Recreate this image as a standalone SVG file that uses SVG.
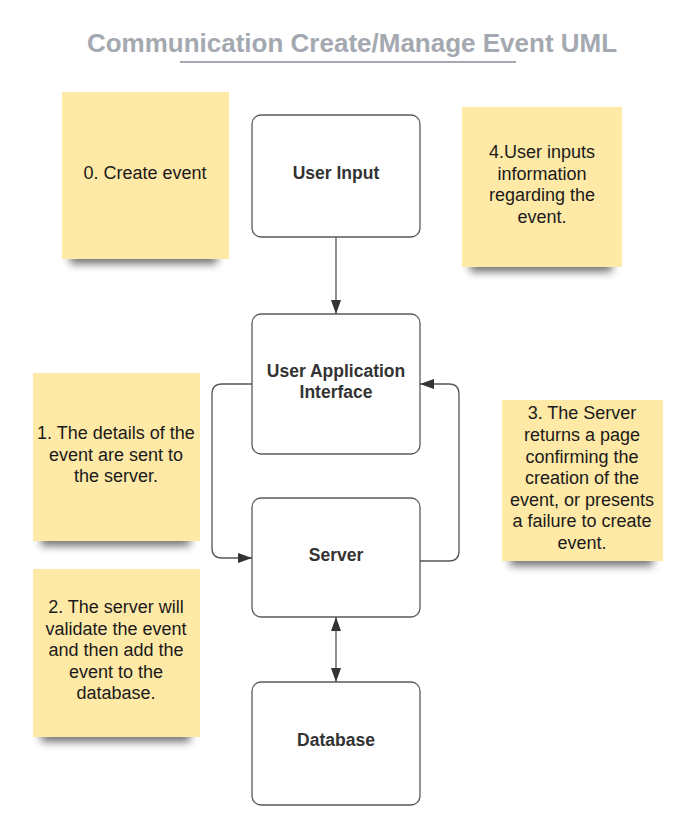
<svg xmlns="http://www.w3.org/2000/svg" width="697" height="831" viewBox="0 0 697 831">
<style>
.title{font-family:"Liberation Sans",Arial,sans-serif;font-weight:bold;font-size:26px;fill:#a4a8b0;text-anchor:middle}
.node rect{fill:#fff;stroke:#5a5a5a;stroke-width:1.3}
.node text{font-family:"Liberation Sans",Arial,sans-serif;font-weight:bold;font-size:17.5px;fill:#333;text-anchor:middle}
.note rect.paper{fill:#ffe9a7}
.note rect.shadow{fill:#000;opacity:0.55;filter:url(#blur)}
.note text{font-family:"Liberation Sans",Arial,sans-serif;font-size:18px;fill:#1a1a1a;text-anchor:middle}
.conn path{fill:none;stroke:#555;stroke-width:1.3}
</style>
<defs>
<filter id="blur" x="-20%" y="-100%" width="140%" height="300%"><feGaussianBlur stdDeviation="4"/></filter>
<marker id="arr" viewBox="0 0 14 10" refX="14" refY="5" markerWidth="14" markerHeight="10" markerUnits="userSpaceOnUse" orient="auto-start-reverse"><path d="M0,0 L14,5 L0,10 Z" fill="#333"/></marker>
</defs>
<rect width="697" height="831" fill="#fff"/>
<g id="title">
<text class="title" x="352" y="52">Communication Create/Manage Event UML</text>
<line x1="180" y1="62" x2="516" y2="62" stroke="#a4a8b0" stroke-width="2"/>
</g>
<g id="note0" class="note">
<rect class="shadow" x="70" y="250" width="147" height="14"/>
<rect class="paper" x="62" y="92" width="167" height="167"/>
<text x="145" y="179">0. Create event</text>
</g>
<g id="note4" class="note">
<rect class="shadow" x="470" y="258" width="142" height="14"/>
<rect class="paper" x="462" y="107" width="160" height="160"/>
<text x="542" y="158">4.User inputs</text>
<text x="542" y="180">information</text>
<text x="542" y="201">regarding the</text>
<text x="542" y="223">event.</text>
</g>
<g id="note1" class="note">
<rect class="shadow" x="41" y="532" width="149" height="14"/>
<rect class="paper" x="33" y="373" width="167" height="168"/>
<text x="116" y="439">1. The details of the</text>
<text x="116" y="461">event are sent to</text>
<text x="116" y="482">the server.</text>
</g>
<g id="note2" class="note">
<rect class="shadow" x="41" y="728" width="149" height="14"/>
<rect class="paper" x="33" y="569" width="167" height="168"/>
<text x="116" y="613">2. The server will</text>
<text x="116" y="635">validate the event</text>
<text x="116" y="656">and then add the</text>
<text x="116" y="678">event to the</text>
<text x="116" y="699">database.</text>
</g>
<g id="note3" class="note">
<rect class="shadow" x="510" y="552" width="143" height="14"/>
<rect class="paper" x="502" y="400" width="161" height="161"/>
<text x="582" y="419">3. The Server</text>
<text x="582" y="441">returns a page</text>
<text x="582" y="463">confirming the</text>
<text x="582" y="484">creation of the</text>
<text x="582" y="506">event, or presents</text>
<text x="582" y="527">a failure to create</text>
<text x="582" y="549">event.</text>
</g>
<g id="userInput" class="node">
<rect x="252" y="115" width="168" height="122" rx="9"/>
<text x="336" y="179">User Input</text>
</g>
<g id="uai" class="node">
<rect x="252" y="314" width="168" height="140" rx="9"/>
<text x="336" y="377">User Application</text>
<text x="336" y="398">Interface</text>
</g>
<g id="server" class="node">
<rect x="252" y="498" width="168" height="119" rx="9"/>
<text x="336" y="561">Server</text>
</g>
<g id="database" class="node">
<rect x="252" y="682" width="168" height="123" rx="9"/>
<text x="336" y="746">Database</text>
</g>
<g id="connectors" class="conn">
<path d="M336,237 L336,314" marker-end="url(#arr)"/>
<path d="M252,384 L222,384 Q212,384 212,394 L212,548 Q212,558 222,558 L252,558" marker-end="url(#arr)"/>
<path d="M420,561 L449,561 Q459,561 459,551 L459,394 Q459,384 449,384 L420,384" marker-end="url(#arr)"/>
<path d="M336,617 L336,682" marker-start="url(#arr)" marker-end="url(#arr)"/>
</g>
</svg>
